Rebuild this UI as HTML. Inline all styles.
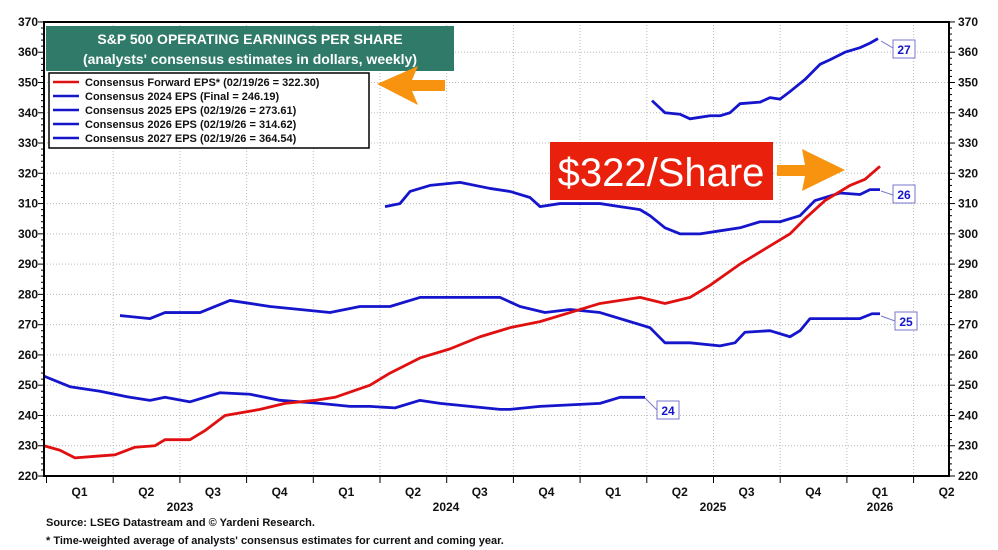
<!DOCTYPE html>
<html><head><meta charset="utf-8">
<style>
body{margin:0;background:#fff;}
svg{display:block;font-family:"Liberation Sans",Arial,sans-serif;}
</style></head><body>
<svg id="s" width="998" height="550" viewBox="0 0 998 550" xmlns="http://www.w3.org/2000/svg">
<g id="grid"></g>
<g id="series"></g>
<rect x="44" y="22" width="905" height="454" fill="none" stroke="#000" stroke-width="2"/>
<g id="axes" font-size="12" font-weight="bold" fill="#111"></g>
<rect x="46" y="26" width="408" height="45" fill="#2f7a68"/>
<text x="250" y="44" text-anchor="middle" font-size="14" font-weight="bold" fill="#fff">S&amp;P 500 OPERATING EARNINGS PER SHARE</text>
<text x="250" y="64" text-anchor="middle" font-size="14" font-weight="bold" fill="#fff">(analysts' consensus estimates in dollars, weekly)</text>
<rect x="49" y="73" width="320" height="75" fill="#fff" stroke="#000" stroke-width="1.5"/>
<g font-size="11" font-weight="bold" fill="#111">
<line x1="53" y1="82" x2="79" y2="82" stroke="#e01010" stroke-width="2.5"/><text x="85" y="86">Consensus Forward EPS* (02/19/26 = 322.30)</text>
<line x1="53" y1="96" x2="79" y2="96" stroke="#1515cc" stroke-width="2.5"/><text x="85" y="100">Consensus 2024 EPS (Final = 246.19)</text>
<line x1="53" y1="110" x2="79" y2="110" stroke="#1515cc" stroke-width="2.5"/><text x="85" y="114">Consensus 2025 EPS (02/19/26 = 273.61)</text>
<line x1="53" y1="124" x2="79" y2="124" stroke="#1515cc" stroke-width="2.5"/><text x="85" y="128">Consensus 2026 EPS (02/19/26 = 314.62)</text>
<line x1="53" y1="138" x2="79" y2="138" stroke="#1515cc" stroke-width="2.5"/><text x="85" y="142">Consensus 2027 EPS (02/19/26 = 364.54)</text>
</g>
<polygon points="377,84 418,66 412,80 445,80 445,91 412,91 418,105" fill="#f7930e"/>
<rect x="550" y="142" width="223" height="58" fill="#e8200c"/>
<text x="661" y="186" text-anchor="middle" font-size="40" fill="#fff">$322/Share</text>
<polygon points="777,165 805,165 802,149 845,170 802,191 805,176 777,176" fill="#f7930e"/>
<g font-size="12" font-weight="bold" fill="#1515cc">
<line x1="881" y1="41" x2="893" y2="48" stroke="#7777cc"/>
<rect x="893" y="40" width="22" height="18" fill="#fff" stroke="#7777cc"/><text x="904" y="54" text-anchor="middle">27</text>
<line x1="881" y1="191" x2="893" y2="195" stroke="#7777cc"/>
<rect x="893" y="185" width="22" height="18" fill="#fff" stroke="#7777cc"/><text x="904" y="199" text-anchor="middle">26</text>
<line x1="881" y1="316" x2="895" y2="321" stroke="#7777cc"/>
<rect x="895" y="312" width="22" height="18" fill="#fff" stroke="#7777cc"/><text x="906" y="326" text-anchor="middle">25</text>
<line x1="645" y1="398" x2="657" y2="410" stroke="#7777cc"/>
<rect x="657" y="401" width="22" height="18" fill="#fff" stroke="#7777cc"/><text x="668" y="415" text-anchor="middle">24</text>
</g>
<text x="46" y="526" font-size="11" font-weight="bold" fill="#111">Source: LSEG Datastream and © Yardeni Research.</text>
<text x="46" y="544" font-size="11" font-weight="bold" fill="#111">* Time-weighted average of analysts' consensus estimates for current and coming year.</text>
</svg>
<script>
var NS="http://www.w3.org/2000/svg";
function Y(v){return 476-(v-220)*3.027;}
function el(p,t,a,txt){var e=document.createElementNS(NS,t);for(var k in a)e.setAttribute(k,a[k]);if(txt!=null)e.textContent=txt;document.getElementById(p).appendChild(e);return e;}
for(var v=230;v<=360;v+=10){el("grid","line",{x1:44,x2:949,y1:Y(v),y2:Y(v),stroke:"#bbb","stroke-dasharray":"1,2"});}
for(var k=1;k<14;k++){var x=46.5+k*66.7;el("grid","line",{x1:x,x2:x,y1:22,y2:476,stroke:"#bbb","stroke-dasharray":"1,2"});}
for(var v=220;v<=370;v+=10){el("axes","text",{x:38,y:Y(v)+4,"text-anchor":"end"},v);el("axes","text",{x:958,y:Y(v)+4},v);
el("axes","line",{x1:38,x2:44,y1:Y(v),y2:Y(v),stroke:"#000"});el("axes","line",{x1:949,x2:955,y1:Y(v),y2:Y(v),stroke:"#000"});}
for(var v=222;v<370;v+=2){if(v%10){el("axes","line",{x1:41,x2:44,y1:Y(v),y2:Y(v),stroke:"#000"});el("axes","line",{x1:949,x2:952,y1:Y(v),y2:Y(v),stroke:"#000"});}}
var q=["Q1","Q2","Q3","Q4"];
for(var k=0;k<14;k++){var x=46.5+k*66.7;el("axes","line",{x1:x,x2:x,y1:476,y2:483,stroke:"#000"});
el("axes","text",{x:x+33,y:496,"text-anchor":"middle"},q[k%4]);}
[["2023",180],["2024",446],["2025",713],["2026",880]].forEach(function(a){el("axes","text",{x:a[1],y:511,"text-anchor":"middle"},a[0]);});
function line(pts,c){el("series","polyline",{points:pts.map(function(p){return p[0]+","+Y(p[1]);}).join(" "),fill:"none",stroke:c,"stroke-width":2.8,"stroke-linejoin":"round"});}
line([[44,253],[70,249.5],[100,248],[130,246],[150,245],[165,246],[190,244.5],[220,247.5],[250,247],[280,245],[320,244],[350,243],[370,243],[395,242.5],[420,245],[440,244],[470,243],[500,242],[510,242],[540,243],[570,243.5],[600,244],[620,246],[645,246]],"#1515cc");
line([[120,273],[150,272],[165,274],[200,274],[230,278],[270,276],[300,275],[330,274],[360,276],[390,276],[420,279],[440,279],[470,279],[500,279],[520,276],[545,274],[570,275],[600,274],[630,271],[650,269],[665,264],[690,264],[720,263],[735,264],[745,267.5],[770,268],[790,266],[800,268],[810,272],[840,272],[860,272],[872,273.6],[880,273.6]],"#1515cc");
line([[385,309],[400,310],[410,314],[430,316],[460,317],[490,315],[510,314],[530,312],[540,309],[560,310],[590,310],[600,310],[620,309],[640,308],[650,306],[665,302],[680,300],[700,300],[720,301],[740,302],[760,304],[780,304],[800,306],[815,311],[840,313.5],[860,313],[870,314.6],[880,314.6]],"#1515cc");
line([[652,344],[665,340],[680,339.5],[690,338],[710,339],[720,339],[730,340],[740,343],[760,343.5],[770,345],[780,344.5],[790,347],[805,351],[820,356],[830,357.5],[845,360],[860,361.5],[870,363],[878,364.5]],"#1515cc");
line([[44,230],[60,228.5],[75,226],[95,226.5],[115,227],[135,229.5],[155,230],[165,232],[190,232],[205,235],[225,240],[260,242],[285,244],[315,245],[335,246],[370,250],[390,254],[420,259],[450,262],[480,266],[510,269],[540,271],[570,274],[600,277],[640,279],[665,277],[690,279],[710,283],[740,290],[765,295],[790,300],[805,305],[825,311],[850,316],[865,318],[880,322.3]],"#e01010");
</script>
</body></html>
